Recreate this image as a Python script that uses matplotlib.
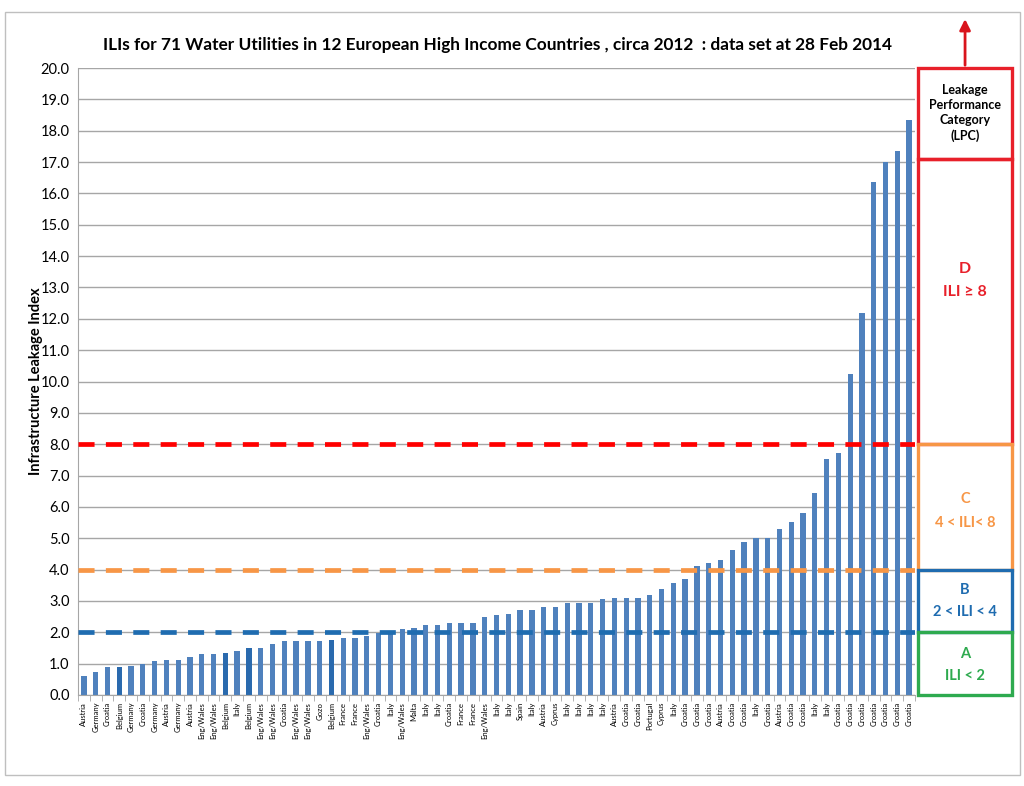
import matplotlib
matplotlib.use("Agg")
import matplotlib.pyplot as plt
from matplotlib.patches import Rectangle
from matplotlib.transforms import blended_transform_factory
import numpy as np

plt.rcParams['font.family'] = ['Lato', 'DejaVu Sans']

title = "ILIs for 71 Water Utilities in 12 European High Income Countries , circa 2012  : data set at 28 Feb 2014"
y_label = "Infrastructure Leakage Index"

countries = [
    "Austria", "Germany", "Croatia", "Belgium", "Germany", "Croatia", "Germany", "Austria", "Germany", "Austria",
    "Eng/Wales", "Eng/Wales", "Belgium", "Italy", "Belgium", "Eng/Wales", "Eng/Wales", "Croatia", "Eng/Wales", "Eng/Wales",
    "Gozo", "Belgium", "France", "France", "Eng/Wales", "Croatia", "Italy", "Eng/Wales", "Malta", "Italy",
    "Italy", "Croatia", "France", "France", "Eng/Wales", "Italy", "Italy", "Spain", "Italy", "Austria",
    "Cyprus", "Italy", "Italy", "Italy", "Italy", "Austria", "Croatia", "Croatia", "Portugal", "Cyprus",
    "Italy", "Croatia", "Croatia", "Croatia", "Austria", "Croatia", "Croatia", "Italy", "Croatia", "Austria",
    "Croatia", "Croatia", "Italy", "Italy", "Croatia", "Croatia", "Croatia", "Croatia", "Croatia", "Croatia",
    "Croatia",
]

ili = [
    0.62, 0.74, 0.90, 0.90, 0.93, 1.00, 1.08, 1.12, 1.12, 1.21,
    1.30, 1.30, 1.33, 1.40, 1.50, 1.50, 1.62, 1.71, 1.71, 1.71,
    1.71, 1.74, 1.81, 1.81, 1.89, 1.99, 2.00, 2.12, 2.15, 2.24,
    2.24, 2.30, 2.30, 2.30, 2.48, 2.55, 2.58, 2.70, 2.70, 2.80,
    2.80, 2.92, 2.95, 2.95, 3.05, 3.10, 3.10, 3.10, 3.20, 3.38,
    3.57, 3.70, 4.10, 4.20, 4.30, 4.62, 4.88, 5.00, 5.00, 5.30,
    5.52, 5.80, 6.43, 7.53, 7.72, 10.24, 12.20, 16.36, 17.00, 17.35,
    18.34,
]

highlight_idx = [3, 12, 14, 21]

thresholds = [8.0, 4.0, 2.0]
threshold_colors = ["#FF0000", "#F79646", "#1F6CB0"]

lpc_header = "Leakage\nPerformance\nCategory\n(LPC)"
lpc_bands = [  # (low, high, letter, rule, colour)
    (8.0, 17.1, "D", "ILI \u2265 8", "#E8202A"),
    (4.0, 8.0, "C", "4 < ILI< 8", "#F79646"),
    (2.0, 4.0, "B", "2 < ILI < 4", "#1F6CB0"),
    (0.0, 2.0, "A", "ILI < 2", "#2EAA4F"),
]
lpc_text_y = [(13.6, 12.85), (6.25, 5.5), (3.35, 2.65), (1.3, 0.6)]

fig = plt.figure(figsize=(10.24, 7.86), dpi=100)
fig.patch.set_facecolor("white")
fig.add_artist(Rectangle((5/1024, 1-775/786), 1015/1024, 763/786, transform=fig.transFigure,
                         fill=False, edgecolor="#BFBFBF", lw=1.0))

ax = fig.add_axes([78/1024, 1-695/786, 837/1024, 627/786])
x = np.arange(len(ili))
colors = ["#4F81BD"] * len(ili)
for i in highlight_idx:
    colors[i] = "#2A6AAE"
ax.bar(x, ili, width=0.45, color=colors, zorder=2)

ax.set_xlim(-0.5, len(ili) - 0.5)
ax.set_ylim(0, 20)
ax.set_yticks(np.arange(0, 21, 1))
ax.set_yticklabels([f"{v:.1f}" for v in range(0, 21)], fontsize=10.5)
ax.yaxis.grid(True, color="#A6A6A6", lw=1.0, zorder=0)
ax.set_axisbelow(True)
ax.set_xticks(x)
ax.set_xticklabels(countries, rotation=90, fontsize=5.5, va="top")
ax.set_xticks(np.arange(-0.5, len(ili), 1), minor=True)
ax.tick_params(axis="x", which="major", length=0, pad=5)
ax.tick_params(axis="x", which="minor", length=4, color="#A6A6A6")
ax.tick_params(axis="y", length=0, pad=6)
for s in ["top", "right"]:
    ax.spines[s].set_visible(False)
ax.spines["left"].set_color("#A6A6A6")
ax.spines["bottom"].set_color("#A6A6A6")

for t, c in zip(thresholds, threshold_colors):
    ax.axhline(t, color=c, lw=3.4, dashes=(3.4, 2.4), zorder=3)

ax.set_ylabel(y_label, fontsize=10.5, fontweight="bold", labelpad=-2)
fig.text(0.486, 1-45/786, title, ha="center", va="center", fontsize=12.4, fontweight="bold")

tr = blended_transform_factory(ax.transAxes, ax.transData)
bx0, bx1 = 1.0036, 1.116
bxc = (bx0 + bx1) / 2
ax.add_patch(Rectangle((bx0, 17.1), bx1 - bx0, 20 - 17.1, transform=tr, fill=False,
                       edgecolor="#E8202A", lw=2.4, clip_on=False, zorder=5))
ax.text(bxc, 18.57, lpc_header, transform=tr, ha="center", va="center", fontsize=9,
        fontweight="bold", linespacing=1.3)
for (lo, hi, letter, rule, col), (ly, ry) in zip(lpc_bands, lpc_text_y):
    ax.add_patch(Rectangle((bx0, lo), bx1 - bx0, hi - lo, transform=tr, fill=False,
                           edgecolor=col, lw=2.4, clip_on=False, zorder=5))
    fs = 11.5 if letter == "D" else 10.5
    ax.text(bxc, ly, letter, transform=tr, ha="center", va="center", fontsize=fs,
            fontweight="bold", color=col)
    ax.text(bxc, ry, rule, transform=tr, ha="center", va="center", fontsize=fs,
            fontweight="bold", color=col)

ax.annotate("", xy=(bxc, 21.65), xytext=(bxc, 20.0), xycoords=tr, textcoords=tr,
            arrowprops=dict(arrowstyle="-|>", color="#D9141C", lw=2, mutation_scale=16),
            annotation_clip=False)

fig.savefig("out.png", dpi=100)
